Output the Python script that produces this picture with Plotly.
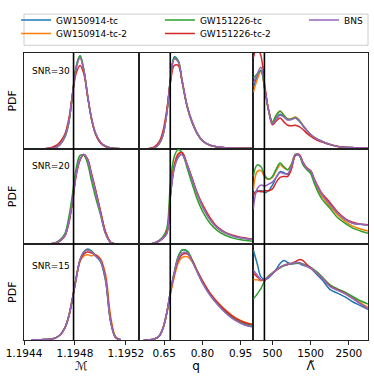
import plotly.graph_objects as go
from plotly.subplots import make_subplots

# names / colours of the five runs
names = ["GW150914-tc", "GW150914-tc-2", "GW151226-tc", "GW151226-tc-2", "BNS"]
colors = ["#1f77b4", "#ff7f0e", "#2ca02c", "#d62728", "#9467bd"]
snr_labels = ["SNR=30", "SNR=20", "SNR=15"]

# x grids (one per column)
mc_grid = [1.19446, 1.19452, 1.19456, 1.19460, 1.19464, 1.19468, 1.19472, 1.19475, 1.19478, 1.19481,
           1.19484, 1.19487, 1.19490, 1.19493, 1.19496, 1.19500, 1.19504, 1.19508, 1.19512, 1.19516]
q_grid = [0.57, 0.59, 0.61, 0.63, 0.645, 0.66, 0.675, 0.69, 0.705, 0.72, 0.74,
          0.76, 0.78, 0.80, 0.83, 0.86, 0.89, 0.92, 0.95, 0.98, 1.0]
lam_grid = [0, 100, 200, 300, 400, 500, 600, 700, 800, 900, 1000, 1100, 1200, 1300,
            1400, 1500, 1600, 1700, 1800, 2000, 2200, 2400, 2600, 2800, 3000]

# injected (true) values
true_mc = 1.194789
true_q = 0.674
true_lam = 290

# ---- SNR=30 ----
mc30 = [
    [0, 0, 0, 0.2, 1, 4, 12, 26, 56, 86, 97, 82, 55, 31, 16, 6.5, 2.5, 0.8, 0.2, 0],
    [0, 0, 0, 0.2, 1, 4, 13, 27, 56, 85, 95, 81, 55, 32, 17, 7, 2.6, 0.8, 0.2, 0],
    [0, 0, 0, 0.2, 1, 4, 12, 26, 56, 86, 97, 82, 54, 31, 16, 6.5, 2.5, 0.8, 0.2, 0],
    [0, 0, 0, 0.6, 2.5, 6.5, 15, 30, 56, 79, 87, 78, 54, 31, 16, 6, 2.3, 0.7, 0.2, 0],
    [0, 0, 0, 0.2, 1, 4, 13, 27, 56, 84, 95, 81, 55, 32, 17, 7, 2.6, 0.8, 0.2, 0],
]
q30 = [
    [0, 0, 0.8, 5, 14, 37, 73, 96, 92, 71, 44, 27, 15.5, 8.2, 3.5, 1.8, 1, 0.6, 0.5, 0.4, 0.4],
    [0, 0, 0.8, 5, 14, 36, 72, 94, 91, 72, 45, 28, 16, 8.6, 3.7, 1.9, 1, 0.6, 0.5, 0.4, 0.4],
    [0, 0, 0.8, 5, 14, 37, 73, 95, 92, 71, 44, 27, 15.5, 8.2, 3.5, 1.8, 1, 0.6, 0.5, 0.4, 0.4],
    [0, 0.2, 1.5, 7, 18, 40, 70, 87, 87, 71, 45, 28, 16, 8.4, 3.5, 1.8, 1, 0.6, 0.5, 0.4, 0.4],
    [0, 0, 0.8, 5, 14, 36, 72, 94, 91, 72, 45, 28, 16, 8.4, 3.6, 1.9, 1, 0.6, 0.5, 0.4, 0.4],
]
lam30 = [
    [64, 75, 82, 62, 40, 27, 32, 36, 34, 30.5, 31, 32, 29, 24, 19, 14.8, 11.5, 9.3, 7.5, 4.5, 2.4, 1.5, 1.1, 0.8, 0.7],
    [59, 72, 81, 62, 40, 28, 35, 39.5, 35, 31, 31.5, 33, 30, 24.5, 19, 15, 11.8, 9.5, 7.6, 4.6, 2.5, 1.5, 1.1, 0.8, 0.7],
    [74, 78, 81, 62, 40, 28, 35, 39, 35, 31, 31, 32.5, 29.5, 24, 19, 14.8, 11.5, 9.3, 7.5, 4.5, 2.4, 1.5, 1.1, 0.8, 0.7],
    [95, 106, 97, 66, 40, 25, 29, 32, 28, 24.5, 24, 24.5, 23, 20, 16, 13, 10.3, 8.3, 6.8, 4.2, 2.3, 1.4, 1, 0.8, 0.7],
    [68, 78, 85, 63, 40, 26, 31, 35, 33, 30, 30.5, 32, 29, 24, 19, 14.8, 11.5, 9.3, 7.5, 4.5, 2.4, 1.5, 1.1, 0.8, 0.7],
]

# ---- SNR=20 ----
mc20 = [
    [0, 0.1, 0.3, 0.5, 1.2, 3.5, 9, 22, 45, 74, 89, 94, 88, 72, 57, 34, 12, 2, 0.4, 0],
    [0, 0.1, 0.3, 0.5, 1.2, 3.5, 9, 22, 45, 74, 89, 94, 88, 72, 57, 35, 13, 2.2, 0.4, 0],
    [0, 0.1, 0.3, 0.6, 1.5, 4.5, 11, 27, 52, 80, 93, 93, 84, 66, 50, 31, 11, 2, 0.4, 0],
    [0, 0.1, 0.3, 0.5, 1.1, 3.2, 8.5, 21, 43, 72, 88, 94, 89, 74, 58, 35, 13, 2.2, 0.4, 0],
    [0, 0.1, 0.3, 0.5, 1.2, 3.5, 9, 22, 45, 74, 89, 94, 88, 72, 56, 33, 11, 1.8, 0.3, 0],
]
q20 = [
    [0, 0.3, 1.2, 3.5, 6.5, 11, 52, 80, 91, 94, 83, 68, 52, 40, 26, 17, 12, 8.8, 6.8, 5.6, 5],
    [0, 0.3, 1.2, 3.5, 6.5, 12, 55, 84, 95, 96, 83, 68, 52, 40, 26, 17, 12, 9, 7, 5.8, 5.2],
    [0, 0.4, 1.5, 4.2, 8, 16, 65, 92, 99, 96, 80, 63, 47, 35, 22, 14, 9.5, 6.5, 4.8, 3.8, 3.4],
    [0, 0.3, 1.2, 3.5, 6.5, 12, 53, 82, 94, 96, 84, 69, 54, 42, 28, 18, 12.5, 9.5, 7.5, 6.2, 5.6],
    [0, 0.3, 1.2, 3.5, 6.5, 11, 52, 80, 91, 94, 83, 68, 53, 40, 26, 17, 12, 8.8, 6.8, 5.6, 5],
]
lam20 = [
    [54, 55, 56, 54, 56, 62, 70, 76, 75, 73, 81, 93, 93, 85, 79, 77, 67, 58, 51, 42, 33, 26, 22, 21, 20.5],
    [56, 76, 77, 70, 68, 70, 77, 83, 80, 78, 84, 94, 93, 84, 79, 76, 65, 56, 50, 40, 31, 24, 19, 16, 14],
    [71, 83, 81, 72, 68, 71, 79, 85, 81, 78, 84, 94, 93, 83, 78, 74, 63, 54, 47, 38, 28, 22, 17, 14, 11.5],
    [51, 56, 55, 56, 56, 58, 65, 70, 71, 71, 79, 93, 94, 86, 80, 77, 68, 60, 53, 44, 34, 27, 23, 21, 20.6],
    [37, 58, 62, 61, 63, 65, 70, 75, 74, 74, 82, 94, 93, 85, 79, 77, 67, 59, 52, 42, 33, 26, 22, 21, 20],
]

# ---- SNR=15 ----
mc15 = [
    [0, 0.2, 0.4, 0.8, 1.8, 5, 12.5, 24, 43, 65, 84, 92, 95, 93, 88, 82, 62, 19, 2.3, 0.3],
    [0, 0.2, 0.4, 0.8, 1.8, 5, 12.5, 24, 43, 64, 82, 88, 89, 88, 89, 85, 69, 25, 3.5, 0.4],
    [0, 0.2, 0.5, 1, 2, 5, 12.5, 24, 43, 65, 84, 92, 94.5, 93, 89, 83, 64, 20, 2.5, 0.3],
    [0, 0.2, 0.4, 0.8, 1.8, 5, 12.5, 24, 43, 65, 83, 90, 92, 91, 89, 84, 65, 21, 2.6, 0.3],
    [0, 0.2, 0.4, 0.8, 1.8, 5, 12.5, 24, 43, 65, 84, 92, 94, 92, 88, 83, 63, 19, 2.3, 0.3],
]
q15 = [
    [0, 0.2, 1, 4, 12, 28, 51, 71, 87, 94, 93, 83, 71, 60, 47, 37, 29, 22.5, 18, 15, 14],
    [0, 0.2, 1, 4, 12, 27, 48, 66, 80, 86, 87, 82, 72, 62, 49, 39.5, 31.5, 25, 20.5, 17.5, 16.5],
    [0, 0.2, 1, 4, 12, 28, 51, 71, 87, 94, 93, 84, 72, 61, 48, 38, 30, 23.5, 19, 16.5, 15.5],
    [0, 0.2, 1, 4, 12, 28, 50, 69, 83, 89, 90, 83, 72, 62, 49, 39, 31, 24.5, 20, 17, 16],
    [0, 0.2, 1, 4, 12, 28, 51, 70, 85, 91, 91, 82, 71, 60, 47, 37, 28.5, 22, 17.5, 14.5, 13.5],
]
lam15 = [
    [94, 80, 66, 63, 65, 69, 74, 80, 83, 81, 79.5, 80, 80, 78, 77, 75, 71, 67, 63, 53, 49, 45, 40, 36, 32],
    [63, 63, 62, 63, 66, 70, 73, 76, 78, 79.5, 80, 80.5, 80.5, 79, 77, 75, 72, 68.5, 65, 57, 53, 49.5, 44.5, 39, 34],
    [43, 48, 54, 62, 67, 70, 73, 75.5, 77.5, 79, 80, 80.5, 80.5, 79.5, 78, 76, 73, 70, 66, 58, 53.5, 50, 45.5, 41, 37.7],
    [70, 66, 63, 63, 66, 70, 73, 76, 78, 79, 80, 82, 84, 83, 79, 75.5, 72, 68.5, 65, 56.5, 52.5, 48.5, 43.5, 38, 32.6],
    [73, 68, 63, 63, 66, 70, 73, 76, 78, 79.5, 80, 81, 81, 79, 77, 75, 72, 68.5, 65, 56, 52, 48.5, 43.5, 38, 32.5],
]

font = "DejaVu Sans, Arial, sans-serif"

fig = make_subplots(rows=3, cols=3, shared_xaxes=True,
                    horizontal_spacing=0, vertical_spacing=0)

rows = [(mc30, q30, lam30), (mc20, q20, lam20), (mc15, q15, lam15)]
grids = [mc_grid, q_grid, lam_grid]
truths = [true_mc, true_q, true_lam]
legend_ids = ["legend", "legend2", "legend3", "legend4", "legend5"]

for r, panel_set in enumerate(rows):
    for c, panel in enumerate(panel_set):
        for i, ys in enumerate(panel):
            fig.add_trace(
                go.Scatter(x=grids[c], y=ys, mode="lines", name=names[i],
                           line=dict(color=colors[i], width=1.5, shape="spline"),
                           legend=legend_ids[i],
                           showlegend=(r == 0 and c == 0)),
                row=r + 1, col=c + 1,
            )
        fig.add_vline(x=truths[c], line=dict(color="black", width=1.6), row=r + 1, col=c + 1)

# axes
x_ranges = [[1.1944, 1.1953], [0.55, 1.0], [0, 3000]]
x_ticks = [[1.1944, 1.1948, 1.1952], [0.65, 0.80, 0.95], [500, 1500, 2500]]
x_text = [["1.1944", "1.1948", "1.1952"], ["0.65", "0.80", "0.95"], ["500", "1500", "2500"]]
x_titles = ["ℳ", "q", "Λ̃"]

for r in range(3):
    for c in range(3):
        bottom = (r == 2)
        fig.update_xaxes(range=x_ranges[c], showgrid=False, zeroline=False, automargin=False,
                         showline=True, mirror=True, linecolor="#222", linewidth=1,
                         tickvals=x_ticks[c], ticktext=x_text[c],
                         ticks="outside" if bottom else "", ticklen=3.5, tickcolor="#222",
                         showticklabels=bottom,
                         tickfont=dict(size=10.5, color="black", family=font),
                         row=r + 1, col=c + 1)
        fig.update_yaxes(range=[0, 100], showgrid=False, zeroline=False, automargin=False,
                         showline=True, mirror=True, linecolor="#222", linewidth=1,
                         showticklabels=False, ticks="",
                         row=r + 1, col=c + 1)
    fig.update_yaxes(title=dict(text="PDF", font=dict(size=11, color="black", family=font), standoff=4),
                     row=r + 1, col=1)
for c in range(3):
    fig.update_xaxes(title=dict(text=x_titles[c], font=dict(size=12, color="black", family=font), standoff=2),
                     row=3, col=c + 1)

snr_y = [0.815, 0.82, 0.77]
for r in range(3):
    ax = "" if r == 0 else str(3 * r + 1)
    fig.add_annotation(text=snr_labels[r], xref="x%s domain" % ax, yref="y%s domain" % ax,
                       x=0.055, y=snr_y[r], xanchor="left", yanchor="middle", showarrow=False,
                       font=dict(size=9, color="black", family=font))

# legend frame spanning the full width above the panels
fig.add_shape(type="rect", xref="paper", yref="paper", x0=0, x1=1, y0=1.027, y1=1.1356,
              line=dict(color="#cccccc", width=1), fillcolor="white", layer="above")

# one single-entry legend per slot: columns GW150914 | GW151226 | BNS, two rows
leg_x = [-0.023, -0.023, 0.395, 0.395, 0.814]
leg_y = [1.115, 1.068, 1.115, 1.068, 1.115]
legends = {}
for i, lid in enumerate(legend_ids):
    legends[lid] = dict(orientation="v", x=leg_x[i], y=leg_y[i], xanchor="left", yanchor="middle",
                        font=dict(size=9, family=font, color="black"),
                        bgcolor="rgba(0,0,0,0)", borderwidth=0, itemwidth=30)

fig.update_layout(
    width=374, height=380,
    margin=dict(l=24, r=6, t=45, b=40),
    plot_bgcolor="white", paper_bgcolor="white",
    font=dict(family=font, color="black"),
    **legends,
)

# drop the browser's default page margin so the figure sits at the window origin
fig.write_html("out.html", config={"displayModeBar": False},
               post_script="document.body.style.margin='0';")
